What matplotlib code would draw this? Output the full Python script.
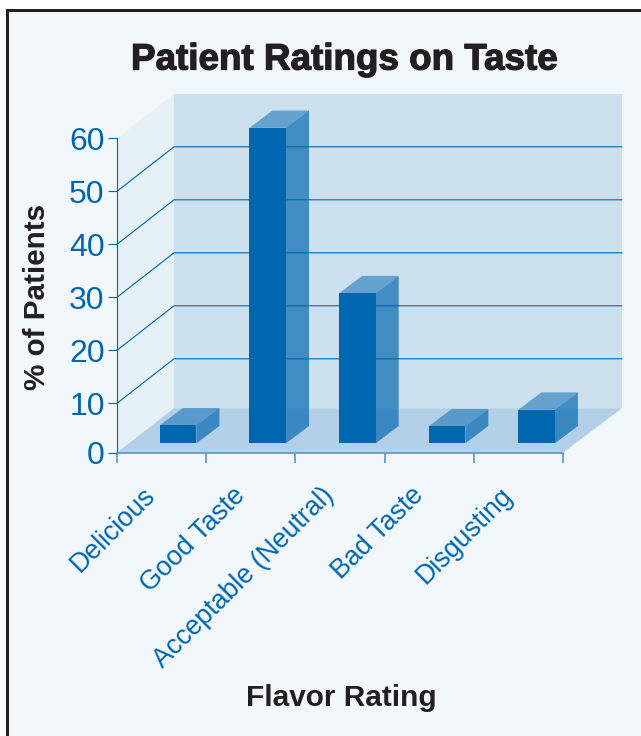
import numpy as np
import matplotlib
matplotlib.use("Agg")
import matplotlib.pyplot as plt
from matplotlib.patches import Polygon, Rectangle
from matplotlib.transforms import IdentityTransform, Affine2D
import matplotlib.patheffects as pe

categories = ["Delicious", "Good Taste", "Acceptable (Neutral)", "Bad Taste", "Disgusting"]
values = [3.65, 60.2, 29.0, 3.45, 6.8]
y_ticks = [0, 10, 20, 30, 40, 50, 60]

W, H = 641, 736
BLUE = "#0066b0"
DARK = "#231f20"
plt.rcParams["font.family"] = ["Liberation Sans", "DejaVu Sans"]

fig = plt.figure(figsize=(W / 100, H / 100), dpi=100, facecolor="white")


def fig_rect(x0, y0, x1, y1, color, z):
    fig.add_artist(Rectangle((x0 / W, 1 - y1 / H), (x1 - x0) / W, (y1 - y0) / H,
                             transform=fig.transFigure, fc=color, ec="none", zorder=z))


fig_rect(7, 10, W, H, "#f2f7fb", -5)
fig_rect(6, 9, W, 12, DARK, -4)
fig_rect(6, 9, 9, H, DARK, -4)

L, R, T, B = 117, 563, 138.3, 452.7
ax = fig.add_axes([L / W, 1 - B / H, (R - L) / W, (B - T) / H])
ax.patch.set_visible(False)


def fwd(v):
    v = np.asarray(v, dtype=float)
    return np.where(v < 10, v * 0.932, v - 0.68)


def inv(u):
    u = np.asarray(u, dtype=float)
    return np.where(u < 9.32, u / 0.932, u + 0.68)


ax.set_yscale("function", functions=(fwd, inv))
ax.set_xlim(-0.5, len(categories) - 0.5)
ax.set_ylim(0, 60)

WALL_L = np.array([57.0, 44.5])
WALL_R = np.array([59.0, 44.5])
BAR_FRONT = np.array([16.5, 9.4])
BAR_D = np.array([23.0, 17.3])
BAR_W = 0.41
BAR_SPREAD = 1.005
ident = IdentityTransform()


def pt(x, y, off=(0.0, 0.0)):
    return ax.transData.transform((x, y)) + np.asarray(off)


def poly(points, color, z, alpha=None):
    ax.add_patch(Polygon(np.array(points), closed=True, transform=ident, fc=color, ec="none",
                         alpha=alpha, zorder=z, clip_on=False))


x0, x1 = ax.get_xlim()
# walls and floor
poly([pt(x0, 0, WALL_L), pt(x1, 0, WALL_R), pt(x1, 60, WALL_R), pt(x0, 60, WALL_L)], "#cce0ee", 0.5)
poly([pt(x0, 0), pt(x0, 0, WALL_L), pt(x0, 60, WALL_L), pt(x0, 60)], "#e5f0f7", 0.5)
poly([pt(x0, 0), pt(x1, 0), pt(x1, 0, WALL_R), pt(x0, 0, WALL_L)], "#b3d0e8", 0.6)

# gridlines (none on the top edge of the wall)
for t in y_ticks[1:-1]:
    p = [pt(x0, t), pt(x0, t, WALL_L), pt(x1, t, WALL_R)]
    xs, ys = zip(*p)
    ax.plot(xs, ys, transform=ident, color=BLUE, lw=0.8, zorder=1, clip_on=False, scalex=False, scaley=False)

# bars
for i, v in enumerate(values):
    c = i * BAR_SPREAD
    a, b = c - BAR_W / 2, c + BAR_W / 2
    f = BAR_FRONT
    g = BAR_FRONT + BAR_D
    z = 2 + i * 0.1
    poly([pt(b, 0, f), pt(b, 0, g), pt(b, v, g), pt(b, v, f)], BLUE, z, alpha=0.68)
    poly([pt(a, v, f), pt(b, v, f), pt(b, v, g), pt(a, v, g)], BLUE, z, alpha=0.5)
    poly([pt(a, 0, f), pt(b, 0, f), pt(b, v, f), pt(a, v, f)], BLUE, z + 0.01)

# axes
for s in ("top", "right"):
    ax.spines[s].set_visible(False)
ax.spines["left"].set_color(BLUE)
ax.spines["left"].set_linewidth(0.8)
ax.spines["bottom"].set_color("#4f97cf")
ax.spines["bottom"].set_linewidth(1.2)
ax.spines["left"].set_zorder(5)
ax.spines["bottom"].set_zorder(5)

ax.set_yticks(y_ticks)
ax.set_yticklabels([str(t) for t in y_ticks])
ax.yaxis.set_minor_locator(matplotlib.ticker.NullLocator())
ax.tick_params(axis="y", length=6.7, width=0.8, color=BLUE, labelcolor=BLUE, labelsize=23, pad=2.2)

ax.set_xticks(np.arange(x0, x1 + 0.5))
ax.set_xticklabels([])
ax.tick_params(axis="x", which="major", length=7.2, width=1.2, color="#4f97cf")
ax.set_xticks(np.arange(len(categories)), minor=True)
ax.set_xticklabels(categories, minor=True, rotation=45, ha="right", va="top",
                   rotation_mode="anchor", color=BLUE, fontsize=19.3)
ax.tick_params(axis="x", which="minor", length=0, pad=19)
for lab in ax.get_xticklabels(minor=True):
    lab.set_transform(lab.get_transform() + Affine2D().translate(-19, -3))


def ftext(x, y, s, **kw):
    return fig.text(x / W, 1 - y / H, s, ha="center", va="center", color=DARK,
                    fontweight="bold", **kw)


title = ftext(344, 60, "Patient Ratings on Taste", fontsize=26.5)
title.set_path_effects([pe.withStroke(linewidth=0.9, foreground=DARK)])
ftext(37, 297, "% of Patients", fontsize=21.3, rotation=90)
ftext(341, 698, "Flavor Rating", fontsize=21.4)

fig.savefig("out.png", dpi=100, facecolor=fig.get_facecolor())
